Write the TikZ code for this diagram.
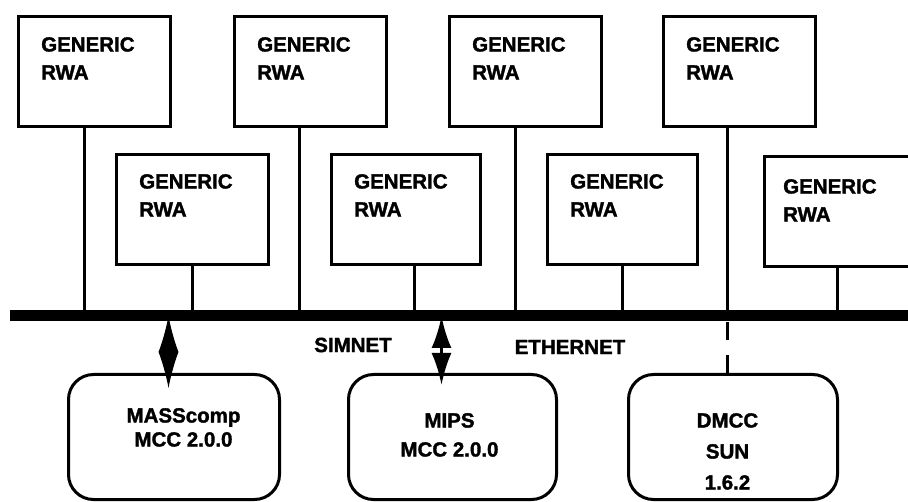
\documentclass[tikz,border=0pt]{standalone}
\usepackage{fontspec}
\setmainfont{Liberation Sans}[BoldFeatures={FakeBold=1.6}]
\usetikzlibrary{positioning,calc,arrows.meta}
\newcommand*{\txt}{\fontsize{20.5pt}{28pt}\selectfont\bfseries}
\newcommand*{\rwa}{GENERIC\\RWA}

\begin{document}
\begin{tikzpicture}[x=1pt,y=-1pt,
  rwabox/.style={draw,line width=3pt,minimum width=152pt,minimum height=110pt,
                 anchor=north west,inner sep=0pt},
  rwatext/.style={align=left,inner sep=0pt,anchor=north west,font=\txt},
  hostbox/.style={draw,line width=3pt,rounded corners=25pt,minimum height=125pt,
                  anchor=north west,inner sep=0pt},
  hosttext/.style={align=center,inner sep=0pt,anchor=north,font=\txt},
  link/.style={line width=3pt},
  lens/.style={line width=1pt,{Latex[length=36pt,width=20pt]}-{Latex[length=36pt,width=20pt]}},
  twoway/.style={line width=3pt,{Latex[length=32pt,width=20pt]}-{Latex[length=32pt,width=20pt]}}]
\useasboundingbox (0,0) rectangle (908,502);
\clip (0,0) rectangle (908,502);
% The network bus
\coordinate (busL) at (10,316);
\coordinate (busR) at (915,316);
\coordinate (busE) at (0,322);
\draw[line width=11pt] (busL) -- (busR);
% Upper row of RWA boxes
\node[rwabox] (g1) at (17,15) {};
\node[rwabox] (g2) at (233,15) {};
\node[rwabox] (g3) at (448,15) {};
\node[rwabox] (g4) at (662,15) {};
% Lower row of RWA boxes
\node[rwabox] (g5) at (115,153) {};
\node[rwabox,minimum width=149pt] (g6) at (330,153) {};
\node[rwabox,minimum width=150pt] (g7) at (546,153) {};
\node[rwabox] (g8) at (763,155) {};
% Box texts
\node[rwatext] (t1) at ($(g1.north west)+(24,22)$) {\rwa};
\node[rwatext] (t2) at ($(g2.north west)+(24,22)$) {\rwa};
\node[rwatext] (t3) at ($(g3.north west)+(24,22)$) {\rwa};
\node[rwatext] (t4) at ($(g4.north west)+(24,22)$) {\rwa};
\node[rwatext] (t5) at ($(g5.north west)+(24,21)$) {\rwa};
\node[rwatext] (t6) at ($(g6.north west)+(24,21)$) {\rwa};
\node[rwatext] (t7) at ($(g7.north west)+(24,21)$) {\rwa};
\node[rwatext] (t8) at ($(g8.north west)+(20,24)$) {\rwa};
% Drops from the boxes down to the bus
\draw[link] ([xshift=-10pt]g1.south) -- ([xshift=-10pt]g1.south |- busL);
\draw[link] ([xshift=-11pt]g2.south) -- ([xshift=-11pt]g2.south |- busL);
\draw[link] ([xshift=-10pt]g3.south) -- ([xshift=-10pt]g3.south |- busL);
\draw[link] ([xshift=-12pt]g4.south) -- ([xshift=-12pt]g4.south |- busL);
\draw[link] (g5.south) -- (g5.south |- busL);
\draw[link] ([xshift=8pt]g6.south) -- ([xshift=8pt]g6.south |- busL);
\draw[link] (g7.south) -- (g7.south |- busL);
\draw[link] ([xshift=-3pt]g8.south) -- ([xshift=-3pt]g8.south |- busL);
% Host computers
\node[hostbox,minimum width=211pt] (h1) at (67,373) {};
\node[hostbox,minimum width=208pt] (h2) at (347,373) {};
\node[hostbox,minimum width=209pt] (h3) at (627,373) {};
\node[hosttext] (m1) at ($(h1.north)+(9.5,35)$) {MASScomp\\[-4pt]MCC 2.0.0};
\node[hosttext] (m2) at ($(h2.north)+(-3,40)$) {MIPS\\[1pt]MCC 2.0.0};
\node[hosttext] (m3) at ($(h3.north)+(-5.5,40)$) {DMCC\\[3pt]SUN\\[3pt]1.6.2};
% Host connections
\draw[lens] ([xshift=-5.5pt]h1.north |- busL) -- ([xshift=-5.5pt,yshift=-15pt]h1.north);
\draw[twoway] ([xshift=-11pt]h2.north |- busL) -- ([xshift=-11pt,yshift=-12pt]h2.north);
\draw[link,dash pattern=on 18pt off 15pt] ([xshift=-5.5pt]h3.north |- busE) -- ([xshift=-5.5pt]h3.north);
% Network names
\node[font=\txt,inner sep=0pt] (simnet) at (353,345) {SIMNET};
\node[font=\txt,inner sep=0pt] (ethernet) at (570,347) {ETHERNET};
\end{tikzpicture}
\end{document}
